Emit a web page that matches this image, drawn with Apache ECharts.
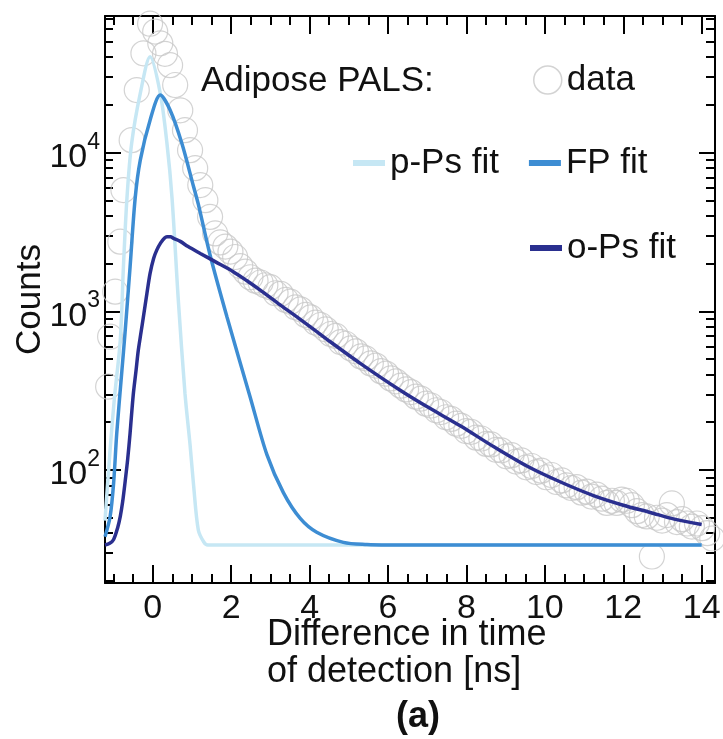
<!DOCTYPE html>
<html><head><meta charset="utf-8">
<script src="https://cdn.jsdelivr.net/npm/echarts@6/dist/echarts.min.js"></script>
<style>html,body{margin:0;padding:0;background:#fff}#c{width:723px;height:739px}</style>
</head><body><div id="c"></div>
<script>
const FONT = '"Liberation Sans", Arial, Helvetica, sans-serif';

// ---- measured data (time in ns, counts) ----
const dataT = [-1.14,-1.09,-0.96,-0.83,-0.75,-0.54,-0.41,-0.24,-0.07,0.06,0.19,0.31,0.44,0.57,0.70,0.82,0.95,1.08,1.21,1.34,1.46,1.59,
  1.72,1.85,1.98,2.10,2.23,2.36,2.49,2.62,2.75,2.87,3.00,3.13,3.26,3.39,3.51,3.64,3.77,3.90,4.03,4.15,4.28,4.41,4.54,4.67,4.79,4.92,5.05,5.18,
  5.31,5.43,5.56,5.69,5.82,5.95,6.07,6.20,6.33,6.46,6.59,6.71,6.84,6.97,7.10,7.23,7.35,7.48,7.61,7.74,7.87,7.99,8.12,8.25,8.38,8.51,8.63,8.76,
  8.89,9.02,9.15,9.27,9.40,9.53,9.66,9.79,9.91,10.04,10.17,10.30,10.43,10.55,10.68,10.81,10.94,11.07,11.19,11.32,11.45,11.58,11.71,11.83,11.96,
  12.09,12.22,12.35,12.47,12.60,12.73,12.86,12.99,13.11,13.24,13.37,13.50,13.63,13.75,13.88,14.01,14.14,14.27];
const dataCounts = [335,692,1330,2750,5810,12000,24800,42300,65000,58000,48900,42000,35600,26700,18500,13870,10370,7990,6250,5020,3940,3100,
  2720,2560,2380,2200,1930,1780,1640,1560,1520,1460,1420,1300,1290,1180,1150,1060,1030,950,915,850,820,770,720,700,640,625,585,560,
  520,505,470,455,420,405,378,362,340,322,310,290,282,262,255,238,232,215,210,196,190,176,174,160,158,146,145,134,
  133,122,124,113,115,104,106,97,99,90,93,84,86,80,77,78,72,73,68,70,66,62,64,62,65,
  64,60,55,52,51,28.5,50,48,52,61.6,47,49,46,44,46,43,40,37];

// ---- p-Ps fit ----
const pPsT = [-1.22,-1.09,-0.98,-0.83,-0.75,-0.66,-0.54,-0.32,-0.07,0.19,0.36,0.49,0.65,0.82,0.95,1.04,1.16,1.30,1.40,14.0];
const pPsV = [48,134,284,659,1910,5180,11460,23660,40200,23660,11460,5180,1178,304,144,80,41.9,35.2,33.7,33.7];

// ---- FP fit ----
const fpT = [-1.22,-1.09,-1.0,-0.92,-0.79,-0.71,-0.58,-0.45,-0.32,-0.07,0.19,0.44,0.74,1.04,1.16,1.46,1.89,2.48,2.91,3.33,3.76,4.18,4.86,5.46,6.0,14.0];
const fpV = [38,50.8,82.8,171,420,726,1910,5180,8980,16030,23070,18580,11460,6100,4740,2265,925,290,125,72,49.5,40.5,35,33.9,33.7,33.7];

// ---- o-Ps fit ----
const oPsT = [-1.22,-1.1,-1.0,-0.9,-0.83,-0.77,-0.71,-0.64,-0.58,-0.5,-0.43,-0.37,-0.3,-0.24,-0.15,-0.07,0.02,0.1,0.2,0.3,
  0.36,0.45,0.53,0.7,0.9,1.21,1.6,2.05,2.4,2.74,3.2,3.76,4.5,5.29,6.31,7.0,7.84,8.7,9.54,10.4,11.24,12.0,12.69,13.3,14.0];
const oPsV = [33.7,34.5,36.5,43,51,63,83,118,171,297,420,570,740,925,1300,1734,2150,2431,2700,2900,
  2951,2950,2884,2760,2560,2318,2050,1778,1560,1362,1120,890,650,470,318,250,190,140,106,84,69,60,54,49,45.4];

// ---- ticks ----
const xMajorTicks = [0,2,4,6,8,10,12,14];
const xMinorTicks = [-1,-0.5,0.5,1,1.5,2.5,3,3.5,4.5,5,5.5,6.5,7,7.5,8.5,9,9.5,10.5,11,11.5,12.5,13,13.5];
const yMajorTicks = [100,1000,10000];
const yMinorTicks = [20,30,40,50,60,70,80,90,200,300,400,500,600,700,800,900,
  2000,3000,4000,5000,6000,7000,8000,9000,20000,30000,40000,50000,60000,70000];

const X_MIN = -1.22, X_MAX = 14.34, Y_MIN = 19.4, Y_MAX = 72700;
const pair = (a, b) => a.map((t, i) => [t, b[i]]);

function xAx(pos, ticks, len, withLabels, withLine) {
  return {
    type: 'value', position: pos, min: X_MIN, max: X_MAX,
    axisLine: { show: withLine, onZero: false, lineStyle: { color: '#000', width: 2 } },
    splitLine: { show: false },
    axisTick: { show: true, inside: true, length: len, customValues: ticks, lineStyle: { color: '#000', width: 2 } },
    axisLabel: withLabels ? {
      show: true, customValues: xMajorTicks, fontSize: 34, fontFamily: FONT, color: '#111', margin: 9
    } : { show: false }
  };
}
function yAx(pos, ticks, len, withLabels, withLine) {
  const ax = {
    type: 'log', logBase: 10, position: pos, min: Y_MIN, max: Y_MAX,
    axisLine: { show: withLine, onZero: false, lineStyle: { color: '#000', width: 2 } },
    splitLine: { show: false }, minorTick: { show: false },
    axisTick: { show: true, inside: true, length: len, customValues: ticks, lineStyle: { color: '#000', width: 2 } },
    axisLabel: withLabels ? {
      show: true, customValues: yMajorTicks, margin: 5,
      formatter: v => '{b|10}{s|' + Math.round(Math.log10(v)) + '}',
      rich: {
        b: { fontSize: 34, fontFamily: FONT, color: '#111', lineHeight: 44, verticalAlign: 'bottom', padding: [14, 0, 0, 0] },
        s: { fontSize: 23, fontFamily: FONT, color: '#111', lineHeight: 44, verticalAlign: 'top', padding: [0, 0, 10, 0] }
      }
    } : { show: false }
  };
  if (withLabels) {
    ax.name = 'Counts'; ax.nameLocation = 'middle'; ax.nameGap = 57; ax.nameRotate = 90;
    ax.nameMoveOverlap = false;
    ax.nameTextStyle = { fontSize: 35, fontFamily: FONT, color: '#111' };
  }
  return ax;
}

const legText = { fontSize: 35, fontFamily: FONT, color: '#111', lineHeight: 40 };
const C_P = '#c6e7f4', C_F = '#3d8dd3', C_O = '#2a2f8f', C_D = '#c8c8c8';
const lineCommon = { type: 'line', showSymbol: false, silent: true, smooth: 0.3 };

const option = {
  backgroundColor: '#fff',
  animation: false,
  grid: { left: 105, right: 8, top: 16, bottom: 156, containLabel: false, outerBoundsMode: 'none' },
  title: [
    { text: 'Adipose PALS:', left: 201, top: 61, padding: 0, textStyle: { fontSize: 35, fontWeight: 'normal', fontFamily: FONT, color: '#111', lineHeight: 40 } },
    { text: 'Difference in time\nof detection [ns]', left: 267, top: 617, padding: 0, textStyle: { fontSize: 36, fontWeight: 'normal', fontFamily: FONT, color: '#111', lineHeight: 37 } },
    { text: '(a)', left: 396, top: 697, padding: 0, textStyle: { fontSize: 36, fontWeight: 'bold', fontFamily: FONT, color: '#111', lineHeight: 40 } }
  ],
  legend: [
    { data: [{ name: 'data', icon: 'circle', itemStyle: { color: '#fff', borderColor: C_D, borderWidth: 1.5 } }],
      left: 533, top: 60, itemWidth: 28, itemHeight: 28, selectedMode: false, padding: 0, textStyle: legText },
    { data: [{ name: 'p-Ps fit', icon: 'rect' }, { name: 'FP fit', icon: 'rect' }],
      left: 353, top: 143, itemWidth: 32, itemHeight: 6, itemGap: 30, selectedMode: false, padding: 0, textStyle: legText },
    { data: [{ name: 'o-Ps fit', icon: 'rect' }],
      left: 530, top: 228, itemWidth: 32, itemHeight: 6, selectedMode: false, padding: 0, textStyle: legText }
  ],
  xAxis: [
    xAx('bottom', xMajorTicks, 18, true, true),
    xAx('bottom', xMinorTicks, 9, false, false),
    xAx('top', xMajorTicks, 18, false, true),
    xAx('top', xMinorTicks, 9, false, false)
  ],
  yAxis: [
    yAx('left', yMajorTicks, 16, true, true),
    yAx('left', yMinorTicks, 8, false, false),
    yAx('right', yMajorTicks, 16, false, true),
    yAx('right', yMinorTicks, 9, false, false)
  ],
  series: [
    { name: 'data', type: 'scatter', data: pair(dataT, dataCounts), symbol: 'circle', symbolSize: 25, clip: false, silent: true,
      itemStyle: { color: 'rgba(255,255,255,0)', borderColor: C_D, borderWidth: 1.2 }, z: 1 },
    Object.assign({ name: 'p-Ps fit', data: pair(pPsT, pPsV), lineStyle: { color: C_P, width: 3.5 }, itemStyle: { color: C_P }, z: 2 }, lineCommon),
    Object.assign({ name: 'FP fit', data: pair(fpT, fpV), lineStyle: { color: C_F, width: 3.5 }, itemStyle: { color: C_F }, z: 3 }, lineCommon),
    Object.assign({ name: 'o-Ps fit', data: pair(oPsT, oPsV), lineStyle: { color: C_O, width: 3.5 }, itemStyle: { color: C_O }, z: 4 }, lineCommon)
  ]
};
echarts.init(document.getElementById('c'), null, { renderer: 'canvas' }).setOption(option);
</script>
</body></html>
